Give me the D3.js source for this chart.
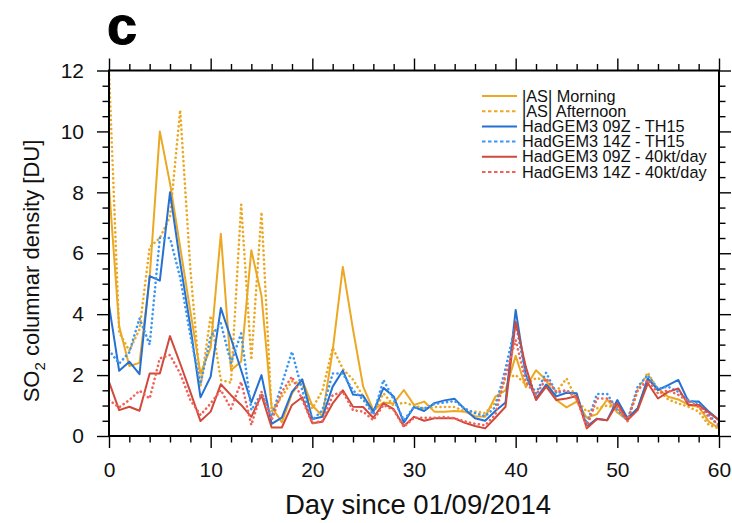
<!DOCTYPE html>
<html>
<head>
<meta charset="utf-8">
<script src="https://cdn.jsdelivr.net/npm/d3@7"></script>
<style>
  html, body { margin: 0; padding: 0; background: #fff; }
  svg { display: block; font-family: "Liberation Sans", Arial, Helvetica, sans-serif; }
</style>
</head>
<body>
<svg id="chart" width="732" height="523"></svg>
<script>
// Days since 01/09/2014
const days = d3.range(0, 61);

// SO2 columnar density [DU]
const iasiMorning = [
  8.2, 3.6, 2.3, 2.4, 5.2, 10.0, 8.3, 6.2, 4.1, 2.05,
  2.9, 6.64, 2.16, 2.45, 6.1, 4.6, 0.95, 0.45, 1.4, 1.84,
  1.0, 0.65, 2.8, 5.55, 3.5, 1.62, 0.85, 1.1, 1.07, 1.51,
  1.02, 1.13, 0.8, 0.8, 0.82, 0.8, 0.65, 0.63, 1.29, 1.5,
  2.63, 1.6, 2.16, 1.84, 1.18, 0.94, 1.13, 0.6, 0.72, 1.2,
  0.77, 0.52, 0.91, 1.86, 1.56, 1.29, 1.2, 1.02, 0.96, 0.47,
  0.25
];
const iasiAfternoon = [
  12.0, 3.4, 2.8, 3.5, 6.2, 6.5, 7.2, 10.7, 5.5, 1.6,
  3.95, 1.84, 1.75, 7.6, 2.5, 7.35, 0.8, 1.3, 1.8, 1.7,
  0.9, 1.5, 2.9, 2.2, 1.85, 1.3, 0.75, 1.4, 1.0, 1.1,
  1.0, 0.9, 0.95, 0.95, 0.95, 0.8, 0.8, 0.75, 1.1, 1.89,
  2.0, 1.7, 1.9, 1.84, 1.45, 1.89, 1.18, 0.8, 0.91, 1.0,
  0.91, 0.52, 1.5, 2.08, 1.51, 1.2, 1.07, 0.96, 0.8, 0.36,
  0.25
];
const had09TH15 = [
  4.3, 2.14, 2.44, 2.03, 5.25, 5.1, 8.0, 5.7, 3.6, 1.27,
  1.95, 4.2, 3.2, 2.16, 1.1, 2.0, 0.4, 0.6, 1.45, 1.86,
  0.56, 0.63, 1.62, 2.15, 1.36, 1.32, 0.8, 1.58, 1.3, 0.44,
  0.95, 0.82, 1.08, 1.17, 1.22, 0.88, 0.58, 0.5, 0.82, 1.1,
  4.14, 2.0, 1.23, 1.69, 1.3, 1.42, 1.4, 0.31, 0.57, 0.52,
  1.18, 0.58, 0.91, 1.89, 1.51, 1.67, 1.84, 1.13, 1.13, 0.8,
  0.52
];
const had14TH15 = [
  2.82, 2.38, 2.75, 3.86, 3.0, 6.5, 6.5, 5.2, 3.3, 1.7,
  3.26, 3.7, 2.4, 3.37, 0.85, 1.4, 0.63, 1.7, 2.77, 1.5,
  0.52, 0.85, 2.05, 2.05, 1.5, 1.2, 0.7, 1.84, 1.2, 0.52,
  0.95, 0.9, 1.05, 1.1, 1.15, 0.9, 0.75, 0.65, 0.95, 2.2,
  3.7, 2.0, 1.4, 2.08, 1.4, 1.5, 1.3, 0.4, 1.38, 1.38,
  0.85, 0.52, 1.62, 2.0, 1.55, 1.62, 1.45, 1.18, 1.07, 0.7,
  0.31
];
const had09Kt40 = [
  1.78, 0.85, 0.96, 0.83, 2.05, 2.05, 3.28, 2.38, 1.45, 0.49,
  0.8, 1.7, 1.34, 1.02, 0.63, 1.34, 0.28, 0.28, 1.02, 1.27,
  0.42, 0.47, 1.07, 1.5, 0.96, 0.95, 0.6, 1.07, 0.88, 0.32,
  0.63, 0.5, 0.58, 0.58, 0.58, 0.43, 0.33, 0.25, 0.6, 0.96,
  3.75, 2.27, 1.18, 1.62, 1.18, 1.23, 1.31, 0.25, 0.56, 0.52,
  1.07, 0.52, 0.85, 1.73, 1.23, 1.45, 1.56, 1.02, 1.02, 0.77,
  0.52
];
const had14Kt40 = [
  1.18, 0.94, 1.18, 1.49, 1.23, 2.55, 2.66, 2.05, 1.18, 0.69,
  1.07, 1.51, 0.9, 1.78, 0.36, 1.45, 0.52, 1.45, 1.95, 1.2,
  0.42, 0.5, 1.34, 1.45, 0.85, 0.8, 0.52, 1.02, 0.85, 0.3,
  0.6, 0.6, 0.6, 0.62, 0.58, 0.48, 0.4, 0.35, 0.7, 2.0,
  3.15, 1.78, 1.34, 1.89, 1.45, 1.5, 1.23, 0.3, 1.23, 1.23,
  0.95, 0.48, 1.5, 1.84, 1.4, 1.5, 1.35, 1.13, 0.96, 0.63,
  0.36
];

const seriesNames = [
  "|AS| Morning",
  "|AS| Afternoon",
  "HadGEM3 09Z - TH15",
  "HadGEM3 14Z - TH15",
  "HadGEM3 09Z - 40kt/day",
  "HadGEM3 14Z - 40kt/day"
];
const seriesValues = [iasiMorning, iasiAfternoon, had09TH15, had14TH15, had09Kt40, had14Kt40];
const seriesColors = ["#eba823", "#eba823", "#2570d2", "#3a97f2", "#d0493a", "#f0625a"];
const seriesDashed = [false, true, false, true, false, true];

const xMajorTicks = [0, 10, 20, 30, 40, 50, 60];
const yMajorTicks = [0, 2, 4, 6, 8, 10, 12];

const svg = d3.select("#chart");

const x = d3.scaleLinear().domain([0, 60]).range([109, 719]);
const y = d3.scaleLinear().domain([0, 12]).range([436, 70.5]);

const xMinor = d3.range(0, 61, 2).filter(d => d % 10 !== 0);
const yMinor = d3.range(0, 12.01, 0.5).filter(d => d % 2 !== 0);

const majorLen = 12, minorLen = 6.5;

// Data lines (clipped to the frame)
svg.append("clipPath").attr("id", "plotClip")
  .append("rect")
  .attr("x", x(0)).attr("y", y(12))
  .attr("width", x(60) - x(0)).attr("height", y(0) - y(12));

const line = d3.line()
  .x((d, i) => x(days[i]))
  .y(d => y(d));

const plot = svg.append("g").attr("clip-path", "url(#plotClip)");
seriesValues.forEach((vals, k) => {
  plot.append("path")
    .datum(vals)
    .attr("d", line)
    .attr("fill", "none")
    .attr("stroke", seriesColors[k])
    .attr("stroke-linejoin", "round")
    .attr("stroke-linecap", seriesDashed[k] ? "round" : "butt")
    .attr("stroke-dasharray", seriesDashed[k] ? "0.1,4.4" : null)
    .attr("stroke-width", seriesDashed[k] ? 2.6 : 2);
});

// Axes: major and minor ticks on all four sides, labels on bottom and left
function styleAxis(g) {
  g.select(".domain").remove();
  g.selectAll(".tick line").attr("stroke", "#000").attr("stroke-width", 1.4);
}

svg.append("g")
  .attr("transform", `translate(0,${y(0)})`)
  .call(d3.axisBottom(x).tickValues(xMajorTicks).tickSize(majorLen).tickPadding(14).tickFormat(d3.format("d")))
  .call(styleAxis)
  .call(g => g.selectAll("text").attr("font-size", 21).attr("fill", "#111")
    .attr("font-family", "Liberation Sans, Arial, sans-serif"));
svg.append("g")
  .attr("transform", `translate(0,${y(0)})`)
  .call(d3.axisBottom(x).tickValues(xMinor).tickSize(minorLen).tickFormat(""))
  .call(styleAxis);

svg.append("g")
  .attr("transform", `translate(0,${y(12)})`)
  .call(d3.axisTop(x).tickValues(xMajorTicks).tickSize(majorLen).tickFormat(""))
  .call(styleAxis);
svg.append("g")
  .attr("transform", `translate(0,${y(12)})`)
  .call(d3.axisTop(x).tickValues(xMinor).tickSize(minorLen).tickFormat(""))
  .call(styleAxis);

svg.append("g")
  .attr("transform", `translate(${x(0)},0)`)
  .call(d3.axisLeft(y).tickValues(yMajorTicks).tickSize(majorLen).tickPadding(13).tickFormat(d3.format("d")))
  .call(styleAxis)
  .call(g => g.selectAll("text").attr("font-size", 21).attr("fill", "#111")
    .attr("font-family", "Liberation Sans, Arial, sans-serif"));
svg.append("g")
  .attr("transform", `translate(${x(0)},0)`)
  .call(d3.axisLeft(y).tickValues(yMinor).tickSize(minorLen).tickFormat(""))
  .call(styleAxis);

svg.append("g")
  .attr("transform", `translate(${x(60)},0)`)
  .call(d3.axisRight(y).tickValues(yMajorTicks).tickSize(majorLen).tickFormat(""))
  .call(styleAxis);
svg.append("g")
  .attr("transform", `translate(${x(60)},0)`)
  .call(d3.axisRight(y).tickValues(yMinor).tickSize(minorLen).tickFormat(""))
  .call(styleAxis);

// Frame
svg.append("rect")
  .attr("x", x(0)).attr("y", y(12))
  .attr("width", x(60) - x(0)).attr("height", y(0) - y(12))
  .attr("fill", "none").attr("stroke", "#000").attr("stroke-width", 2);

// Axis titles
svg.append("text")
  .attr("x", 418)
  .attr("y", 514)
  .attr("text-anchor", "middle")
  .attr("font-size", 27.5)
  .attr("fill", "#111")
  .text("Day since 01/09/2014");

const yTitle = svg.append("text")
  .attr("transform", "translate(39,271) rotate(-90)")
  .attr("text-anchor", "middle")
  .attr("font-size", 22)
  .attr("fill", "#111");
yTitle.append("tspan").text("SO");
yTitle.append("tspan").attr("font-size", 15).attr("dy", 6).text("2");
yTitle.append("tspan").attr("dy", -6).text(" columnar density [DU]");

// Panel letter
svg.append("text")
  .attr("x", 107)
  .attr("y", 44)
  .attr("font-size", 54)
  .attr("font-weight", 900)
  .attr("stroke", "#000")
  .attr("stroke-width", 1)
  .attr("fill", "#000")
  .text("c");

// Legend
const legend = svg.append("g");
const legendY = d3.scaleLinear().domain([0, 5]).range([96, 172]);
seriesNames.forEach((name, k) => {
  const yy = legendY(k);
  legend.append("line")
    .attr("x1", 482).attr("x2", 517)
    .attr("y1", yy).attr("y2", yy)
    .attr("stroke", seriesColors[k])
    .attr("stroke-width", 2)
    .attr("stroke-dasharray", seriesDashed[k] ? "3.5,2.5" : null);
  legend.append("text")
    .attr("x", 522).attr("y", yy + 5.5)
    .attr("font-size", 16.3)
    .attr("fill", "#111")
    .text(name);
});
</script>
</body>
</html>
